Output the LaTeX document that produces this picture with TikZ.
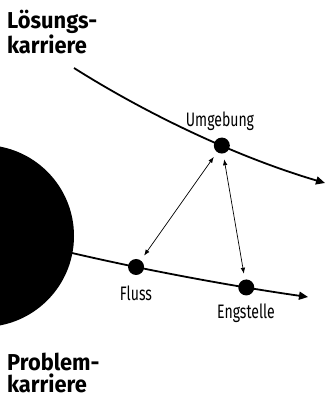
\documentclass[tikz,border=0pt]{standalone}
\usepackage{fontspec}
\setmainfont{Fira Sans}[FakeStretch=0.95]
\newfontfamily\labfont{Fira Sans}[FakeStretch=0.72]
\usetikzlibrary{arrows.meta}
\begin{document}
\begin{tikzpicture}[x=1pt,y=-1pt,
  carrier/.style={line width=1.8pt},
  dot/.style={circle,fill=black,inner sep=0pt,minimum size=16pt},
  rel/.style={line width=0.7pt,{Latex[length=6pt,width=4.5pt]}-{Latex[length=6pt,width=4.5pt]},shorten <=5pt,shorten >=5pt},
  lab/.style={font=\labfont\fontsize{19.5}{20}\selectfont,inner sep=0pt},
  title/.style={font=\bfseries\fontsize{23}{22}\selectfont,align=left,anchor=north west,inner sep=0pt}]
\useasboundingbox (0,0) rectangle (326,400);
\clip (0,0) rectangle (326,400);
\fill (-17,236) circle[radius=91];
\draw[carrier,-{Triangle[length=9pt,width=8pt]}] (74,68) .. controls (150,116) and (240,158) .. (325,183) node[dot,pos=0.6] (umg) {};
\draw[carrier,-{Triangle[length=9pt,width=8pt]}] (72,253) .. controls (154,272) and (238,287) .. (308,297) node[dot,pos=0.26] (flu) {} node[dot,pos=0.72] (eng) {};
\draw[rel] (umg) -- (flu);
\draw[rel] (umg) -- (eng);
\node[lab] (lumg) at (220,121) {Umgebung};
\node[lab] (lflu) at (136,293) {Fluss};
\node[lab] (leng) at (246,313) {Engstelle};
\node[title] (tl) at (7,10) {Lösungs-\\karriere};
\node[title] (tp) at (7,353) {Problem-\\karriere};
\end{tikzpicture}
\end{document}
